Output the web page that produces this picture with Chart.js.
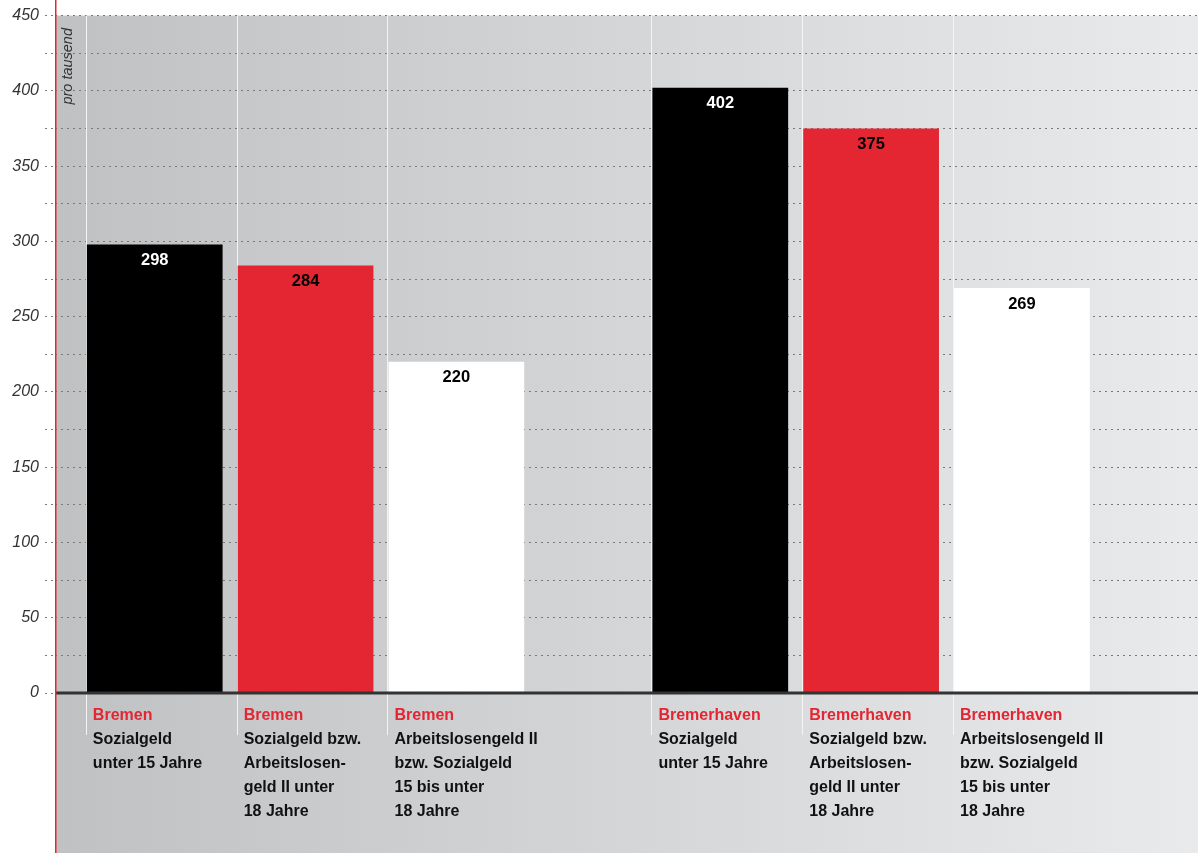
<!DOCTYPE html>
<html>
<head>
<meta charset="utf-8">
<script src="https://cdn.jsdelivr.net/npm/chart.js@4.4.0/dist/chart.umd.min.js"></script>
<style>
  body { margin: 0; background: #fff; }
  #wrap { width: 1198px; height: 853px; position: relative; }
</style>
</head>
<body>
<div id="wrap"><canvas id="canvas"></canvas></div>
<script>
// data
var cities = ['Bremen', 'Bremerhaven'];
var seriesLines = [
    ['Sozialgeld', 'unter 15 Jahre'],
    ['Sozialgeld bzw.', 'Arbeitslosen-', 'geld II unter', '18 Jahre'],
    ['Arbeitslosengeld II', 'bzw. Sozialgeld', '15 bis unter', '18 Jahre']
];
var sozialgeldUnter15 = [298, 402];
var unter18 = [284, 375];
var von15bis18 = [220, 269];
var yTicks = [0, 50, 100, 150, 200, 250, 300, 350, 400, 450];

var barColors = ['#000000', '#e32632', '#ffffff'];
var valueColors = ['#ffffff', '#000000', '#000000'];
var red = '#e32632';

function toPoints(vals) {
    return vals.map(function(v, i) { return { x: i, y: v }; });
}

var decor = {
    id: 'decor',
    beforeDraw: function(chart) {
	var ctx = chart.ctx, a = chart.chartArea;
	ctx.save();
	ctx.fillStyle = '#ffffff';
	ctx.fillRect(0, 0, chart.width, chart.height);
	var g = ctx.createLinearGradient(a.left, 0, chart.width, 0);
	g.addColorStop(0, '#c0c1c3');
	g.addColorStop(1, '#e9eaeb');
	ctx.fillStyle = g;
	ctx.fillRect(a.left, a.top, chart.width - a.left, chart.height - a.top);
	ctx.restore();
    },
    beforeDatasetsDraw: function(chart) {
	var ctx = chart.ctx, a = chart.chartArea;
	ctx.save();
	ctx.strokeStyle = '#f4f4f4';
	ctx.lineWidth = 1;
	chart.data.datasets.forEach(function(ds, di) {
	    chart.getDatasetMeta(di).data.forEach(function(bar) {
		var x = Math.round(bar.x - bar.width / 2) - 0.5;
		ctx.beginPath();
		ctx.moveTo(x, a.top);
		ctx.lineTo(x, a.bottom + 42);
		ctx.stroke();
	    });
	});
	ctx.restore();
    },
    afterDatasetsDraw: function(chart) {
	var ctx = chart.ctx, a = chart.chartArea;
	var y0 = chart.scales.y.getPixelForValue(0);
	ctx.save();
	// zero line
	ctx.strokeStyle = '#333333';
	ctx.lineWidth = 3;
	ctx.beginPath();
	ctx.moveTo(a.left, y0);
	ctx.lineTo(chart.width, y0);
	ctx.stroke();
	// red left line
	ctx.fillStyle = red;
	ctx.fillRect(Math.round(a.left), 0, 1.5, chart.height);
	// unit
	ctx.fillStyle = '#333333';
	ctx.font = 'italic 14.5px "Liberation Sans", Arial, sans-serif';
	ctx.textBaseline = 'middle';
	ctx.textAlign = 'left';
	ctx.translate(a.left + 13, a.top + 89);
	ctx.rotate(-Math.PI / 2);
	ctx.fillText('pro tausend', 0, 0);
	ctx.restore();

	ctx.save();
	chart.data.datasets.forEach(function(ds, di) {
	    chart.getDatasetMeta(di).data.forEach(function(bar, i) {
		// value label
		ctx.font = 'bold 16.5px "Liberation Sans", Arial, sans-serif';
		ctx.textAlign = 'center';
		ctx.textBaseline = 'middle';
		ctx.fillStyle = valueColors[di];
		ctx.fillText(ds.data[i].y, bar.x, bar.y + 16);
		// category label
		var lx = bar.x - bar.width / 2 + 6;
		ctx.font = 'bold 16px "Liberation Sans", Arial, sans-serif';
		ctx.textAlign = 'left';
		ctx.fillStyle = red;
		ctx.fillText(cities[i], lx, y0 + 23);
		ctx.fillStyle = '#111111';
		seriesLines[di].forEach(function(line, k) {
		    ctx.fillText(line, lx, y0 + 47 + k * 24);
		});
	    });
	});
	ctx.restore();
    }
};

function renderGraph() {
    var ctx = document.getElementById('canvas').getContext('2d');

    var barData = {
	datasets: [{
	    label: seriesLines[0].join(' '),
	    data: toPoints(sozialgeldUnter15),
	    backgroundColor: barColors[0]
	}, {
	    label: seriesLines[1].join(' '),
	    data: toPoints(unter18),
	    backgroundColor: barColors[1]
	}, {
	    label: seriesLines[2].join(' '),
	    data: toPoints(von15bis18),
	    backgroundColor: barColors[2]
	}]
    };

    var barOptions = {
	responsive: true,
	maintainAspectRatio: false,
	animation: false,
	layout: { padding: { top: 13, bottom: 160, right: 0 } },
	datasets: { bar: { categoryPercentage: 0.8, barPercentage: 0.9 } },
	plugins: { legend: { display: false }, tooltip: { enabled: false } },
	scales: {
	    x: {
		type: 'linear',
		display: false,
		offset: false,
		min: -0.443,
		max: 1.578,
		afterBuildTicks: function(scale) {
		    scale.ticks = cities.map(function(c, i) { return { value: i }; });
		}
	    },
	    y: {
		min: 0,
		max: 450,
		afterFit: function(scale) { scale.width = 55; },
		afterBuildTicks: function(scale) {
		    var t = [];
		    for (var v = 0; v <= 450; v += 25) t.push({ value: v });
		    scale.ticks = t;
		},
		border: { display: false, dash: [2, 4] },
		grid: {
		    color: '#7a7a7a',
		    lineWidth: 1,
		    tickBorderDash: [2, 4],
		    tickLength: 10,
		    tickColor: '#7a7a7a'
		},
		ticks: {
		    padding: 6,
		    color: '#333333',
		    font: { family: '"Liberation Sans", Arial, sans-serif', size: 16, style: 'italic' },
		    callback: function(v) { return yTicks.indexOf(v) >= 0 ? v : ''; }
		}
	    }
	}
    };

    new Chart(ctx, {
	type: 'bar',
	data: barData,
	options: barOptions,
	plugins: [decor]
    });
}

renderGraph();
</script>
</body>
</html>
